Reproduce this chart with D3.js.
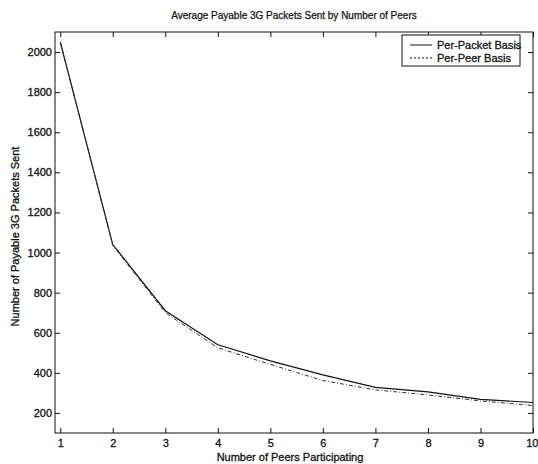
<!DOCTYPE html>
<html>
<head>
<meta charset="utf-8">
<script src="https://d3js.org/d3.v7.min.js"></script>
<style>
  body { margin: 0; background: #fff; }
  text { font-family: "Liberation Sans", Arial, sans-serif; fill: #111; }
</style>
</head>
<body>
<script>
// data
const peers = [1, 2, 3, 4, 5, 6, 7, 8, 9, 10];
const perPacket = [2050, 1040, 710, 540, 460, 390, 328, 305, 268, 252];
const perPeer = [2050, 1035, 700, 525, 442, 362, 315, 290, 260, 237];
const yTicks = [200, 400, 600, 800, 1000, 1200, 1400, 1600, 1800, 2000];
const xTicks = [1, 2, 3, 4, 5, 6, 7, 8, 9, 10];

const w = 538, h = 464;
const padL = 55, padR = 533, padT = 32, padB = 433;

const svg = d3.select("body").append("svg")
  .attr("width", w).attr("height", h);

const x = d3.scaleLinear().domain([0.9, 10]).range([padL, padR]);
const y = d3.scaleLinear().domain([100, 2100]).range([padB, padT]);

// frame
svg.append("rect")
  .attr("x", padL).attr("y", padT)
  .attr("width", padR - padL).attr("height", padB - padT)
  .attr("fill", "none").attr("stroke", "#111").attr("stroke-width", 1);

// inward ticks on every side, like matlab
const tk = 5;
const fmt = d3.format("d");
svg.append("g").attr("transform", "translate(0," + padB + ")")
  .call(d3.axisBottom(x).tickValues(xTicks).tickFormat(fmt).tickSizeInner(-tk).tickSizeOuter(0).tickPadding(6))
  .call(g => g.select(".domain").remove())
  // last label sits on the window edge, keep it inside
  .call(g => g.selectAll(".tick:last-of-type text").attr("text-anchor", "end").attr("dx", 5));
svg.append("g").attr("transform", "translate(0," + padT + ")")
  .call(d3.axisTop(x).tickValues(xTicks).tickSizeInner(-tk).tickSizeOuter(0).tickFormat(""))
  .call(g => g.select(".domain").remove());
svg.append("g").attr("transform", "translate(" + padL + ",0)")
  .call(d3.axisLeft(y).tickValues(yTicks).tickFormat(fmt).tickSizeInner(-tk).tickSizeOuter(0).tickPadding(3))
  .call(g => g.select(".domain").remove());
svg.append("g").attr("transform", "translate(" + padR + ",0)")
  .call(d3.axisRight(y).tickValues(yTicks).tickSizeInner(-tk).tickSizeOuter(0).tickFormat(""))
  .call(g => g.select(".domain").remove());

svg.selectAll(".tick line").attr("stroke", "#111");
svg.selectAll(".tick text")
  .style("font-family", "'Liberation Sans', Arial, sans-serif")
  .style("font-size", "11px")
  .attr("fill", "#111")
  .attr("stroke", "#111").attr("stroke-width", 0.3);

const line = d3.line().x((d, i) => x(peers[i])).y(d => y(d));

svg.append("path").datum(perPacket)
  .attr("d", line).attr("fill", "none")
  .attr("stroke", "#111").attr("stroke-width", 1.2);

svg.append("path").datum(perPeer)
  .attr("d", line).attr("fill", "none")
  .attr("stroke", "#333").attr("stroke-width", 1)
  .attr("stroke-dasharray", "4,2,1,2");

// title and axis labels
svg.append("text")
  .attr("x", (padL + padR) / 2).attr("y", 19)
  .attr("text-anchor", "middle")
  .style("font-size", "10px")
  .attr("stroke", "#111").attr("stroke-width", 0.25)
  .text("Average Payable 3G Packets Sent by Number of Peers");

svg.append("text")
  .attr("x", (padL + padR) / 2 - 4).attr("y", 461)
  .attr("text-anchor", "middle")
  .style("font-size", "11px")
  .attr("stroke", "#111").attr("stroke-width", 0.3)
  .text("Number of Peers Participating");

svg.append("text")
  .attr("transform", "translate(19," + ((padT + padB) / 2 + 4) + ") rotate(-90)")
  .attr("text-anchor", "middle")
  .style("font-size", "11px")
  .attr("stroke", "#111").attr("stroke-width", 0.3)
  .text("Number of Payable 3G Packets Sent");

// legend
const legend = svg.append("g").attr("transform", "translate(402,35)");
legend.append("rect")
  .attr("width", 118).attr("height", 31)
  .attr("fill", "#fff").attr("stroke", "#111");
const names = ["Per-Packet Basis", "Per-Peer Basis"];
const dashes = [null, "2,2"];
names.forEach((n, i) => {
  const yy = 10 + i * 13;
  legend.append("line")
    .attr("x1", 8).attr("x2", 30).attr("y1", yy).attr("y2", yy)
    .attr("stroke", "#111").attr("stroke-width", 1)
    .attr("stroke-dasharray", dashes[i]);
  legend.append("text")
    .attr("x", 35).attr("y", yy + 4)
    .style("font-size", "11px")
    .attr("stroke", "#111").attr("stroke-width", 0.3)
    .text(n);
});
</script>
</body>
</html>
